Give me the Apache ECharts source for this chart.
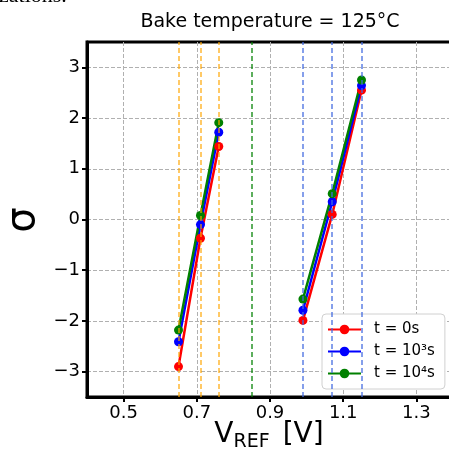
<!DOCTYPE html>
<html>
<head>
<meta charset="utf-8">
<script src="https://cdn.jsdelivr.net/npm/echarts@6/dist/echarts.min.js"></script>
<style>
  html, body { margin: 0; padding: 0; background: #fff; }
  #chart { width: 449px; height: 456px; }
</style>
</head>
<body>
<div id="chart"></div>
<script>
// V_REF values of the two read-out groups
var vrefLow = [0.65, 0.71, 0.76];
var vrefHigh = [0.99, 1.07, 1.15];

// sigma values per bake time
var sigmaT0Low = [-2.90, -0.37, 1.44];
var sigmaT0High = [-1.99, 0.10, 2.55];
var sigmaT3Low = [-2.41, -0.10, 1.72];
var sigmaT3High = [-1.79, 0.35, 2.64];
var sigmaT4Low = [-2.18, 0.08, 1.91];
var sigmaT4High = [-1.57, 0.51, 2.75];

// reference voltage markers
var orangeMarks = [0.65, 0.71, 0.76];
var greenMarks = [0.85];
var blueMarks = [0.99, 1.07, 1.15];

var xTicks = [0.5, 0.7, 0.9, 1.1, 1.3];
var yTicks = [-3, -2, -1, 0, 1, 2, 3];

var seriesNames = ['t = 0s', 't = 10\u00b3s', 't = 10\u2074s'];
var seriesColors = ['#ff0000', '#0000ff', '#008000'];

var FONT = 'DejaVu Sans';

function pairs(xs, ys) {
    var out = [];
    for (var i = 0; i < xs.length; i++) out.push([xs[i], ys[i]]);
    return out;
}

function curve(name, color, xs, ys) {
    return {
        name: name,
        type: 'line',
        data: pairs(xs, ys),
        symbol: 'circle',
        symbolSize: 9,
        showSymbol: true,
        color: color,
        lineStyle: { color: color, width: 2.5 },
        itemStyle: { color: color },
        z: 3
    };
}

function marks(vals, color) {
    return vals.map(function (v) {
        return { xAxis: v, lineStyle: { color: color } };
    });
}

var chart = echarts.init(document.getElementById('chart'));

var series = [
    {
        type: 'line',
        data: [],
        silent: true,
        z: 1,
        markLine: {
            silent: true,
            symbol: 'none',
            animation: false,
            label: { show: false },
            lineStyle: { type: [5, 3], width: 1.5 },
            data: marks(orangeMarks, 'rgba(255,165,0,0.8)')
                .concat(marks(greenMarks, 'rgba(0,128,0,0.85)'))
                .concat(marks(blueMarks, 'rgba(65,105,225,0.85)'))
        }
    },
    curve(seriesNames[0], seriesColors[0], vrefLow, sigmaT0Low),
    curve(seriesNames[0], seriesColors[0], vrefHigh, sigmaT0High),
    curve(seriesNames[1], seriesColors[1], vrefLow, sigmaT3Low),
    curve(seriesNames[1], seriesColors[1], vrefHigh, sigmaT3High),
    curve(seriesNames[2], seriesColors[2], vrefLow, sigmaT4Low),
    curve(seriesNames[2], seriesColors[2], vrefHigh, sigmaT4High)
];

var option = {
    animation: false,
    backgroundColor: '#fff',
    textStyle: { fontFamily: FONT },
    grid: {
        left: 87, top: 42, width: 366, height: 355,
        outerBoundsMode: 'none',
        containLabel: false,
        show: true, borderColor: '#000', borderWidth: 3,
        backgroundColor: 'transparent'
    },
    xAxis: {
        type: 'value',
        min: 0.4, max: 1.4,
        axisLine: { show: true, onZero: false, lineStyle: { color: '#000', width: 3 } },
        axisTick: { show: true, customValues: xTicks, length: 5, lineStyle: { color: '#000', width: 2 } },
        axisLabel: {
            customValues: xTicks, margin: 7,
            fontFamily: FONT, fontSize: 18, color: '#000',
            formatter: function (v) { return v.toFixed(1); }
        },
        splitLine: { show: true, lineStyle: { color: '#b0b0b0', type: [4, 2], width: 1 } }
    },
    yAxis: {
        type: 'value',
        min: -3.5, max: 3.5,
        axisLine: { show: true, onZero: false, lineStyle: { color: '#000', width: 3 } },
        axisTick: { show: true, customValues: yTicks, length: 5, lineStyle: { color: '#000', width: 2 } },
        axisLabel: {
            customValues: yTicks, margin: 7,
            fontFamily: FONT, fontSize: 18, color: '#000',
            formatter: function (v) { return String(v).replace('-', '\u2212'); }
        },
        splitLine: { show: true, lineStyle: { color: '#b0b0b0', type: [4, 2], width: 1 } }
    },
    legend: {
        data: seriesNames,
        orient: 'vertical',
        left: 322, top: 314,
        padding: [8, 10, 8, 5],
        itemWidth: 33, itemHeight: 12, itemGap: 7,
        backgroundColor: '#fff',
        borderColor: '#d0d0d0', borderWidth: 1, borderRadius: 4,
        textStyle: { fontFamily: FONT, fontSize: 15, color: '#000', padding: [0, 0, 0, 8] }
    },
    graphic: [
        {
            type: 'text', silent: true,
            x: 270, y: 22,
            style: {
                text: 'Bake temperature = 125\u00b0C',
                align: 'center', verticalAlign: 'middle',
                font: '19px "DejaVu Sans"', fill: '#000'
            }
        },
        {
            type: 'text', silent: true,
            x: 24, y: 220, rotation: Math.PI / 2,
            style: {
                text: '\u03c3',
                align: 'center', verticalAlign: 'middle',
                font: '40px "DejaVu Sans"', fill: '#000'
            }
        },
        {
            type: 'text', silent: true,
            x: 269, y: 424,
            style: {
                text: '{v|V}{s|REF}{w|[V]}',
                align: 'center', verticalAlign: 'top',
                rich: {
                    v: { fontFamily: FONT, fontSize: 28, lineHeight: 28, padding: [0, 0, 6, 0], fill: '#000' },
                    w: { fontFamily: FONT, fontSize: 28, lineHeight: 28, padding: [0, 0, 6, 13], fill: '#000' },
                    s: { fontFamily: FONT, fontSize: 19, lineHeight: 19, verticalAlign: 'bottom', fill: '#000' }
                }
            }
        },
        {
            type: 'text', silent: true,
            x: -1, y: 7,
            style: {
                text: 'zations.',
                align: 'left', verticalAlign: 'bottom',
                font: '22px "Liberation Serif"', fill: '#000'
            }
        }
    ],
    series: series
};

chart.setOption(option);
</script>
</body>
</html>
